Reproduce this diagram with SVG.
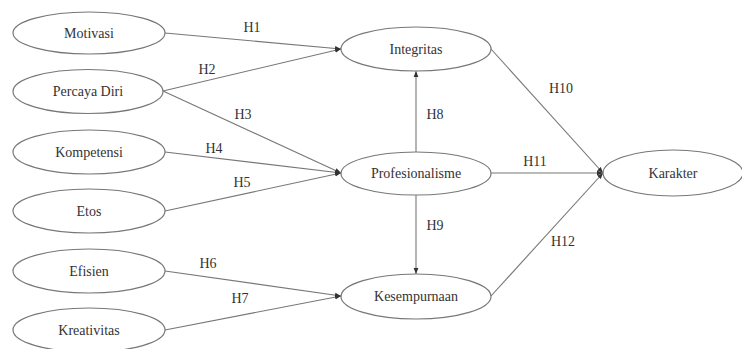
<svg xmlns="http://www.w3.org/2000/svg" width="742" height="349" viewBox="0 0 742 349">
<defs>
<style>
.n ellipse{fill:#fff;stroke:#777;stroke-width:1.2}
.n text{font-family:"Liberation Serif",serif;font-size:14px;fill:#333;text-anchor:middle}
.c line{stroke:#777;stroke-width:1.1}
.lbl{font-family:"Liberation Serif",serif;font-size:14px;fill:#333;text-anchor:middle}
</style>
<marker id="ah" viewBox="0 0 10 10" refX="10" refY="5" markerWidth="6" markerHeight="6" orient="auto" markerUnits="userSpaceOnUse">
<path d="M0,1 L10,5 L0,9 z" fill="#333"/>
</marker>
</defs>
<rect width="742" height="349" fill="#fff"/>
<g id="connectors" class="c">
<line x1="165" y1="33" x2="341" y2="49" marker-end="url(#ah)"/>
<line x1="163" y1="91" x2="341" y2="49" marker-end="url(#ah)"/>
<line x1="163" y1="91" x2="341" y2="173" marker-end="url(#ah)"/>
<line x1="165" y1="152" x2="341" y2="173" marker-end="url(#ah)"/>
<line x1="165" y1="211" x2="341" y2="173" marker-end="url(#ah)"/>
<line x1="165" y1="271" x2="341" y2="296" marker-end="url(#ah)"/>
<line x1="165" y1="330" x2="341" y2="296" marker-end="url(#ah)"/>
<line x1="416" y1="152" x2="416" y2="71" marker-end="url(#ah)"/>
<line x1="416" y1="195" x2="416" y2="274" marker-end="url(#ah)"/>
<line x1="491" y1="49" x2="603" y2="173" marker-end="url(#ah)"/>
<line x1="491" y1="173" x2="603" y2="173" marker-end="url(#ah)"/>
<line x1="491" y1="296" x2="603" y2="173" marker-end="url(#ah)"/>
<text class="lbl" x="252" y="32">H1</text>
<text class="lbl" x="207" y="74">H2</text>
<text class="lbl" x="243" y="119">H3</text>
<text class="lbl" x="214" y="153">H4</text>
<text class="lbl" x="242" y="187">H5</text>
<text class="lbl" x="208" y="268">H6</text>
<text class="lbl" x="240" y="303">H7</text>
<text class="lbl" x="435" y="119">H8</text>
<text class="lbl" x="435" y="230">H9</text>
<text class="lbl" x="561" y="93">H10</text>
<text class="lbl" x="535" y="166">H11</text>
<text class="lbl" x="563" y="246">H12</text>
</g>
<g id="motivasi" class="n"><ellipse cx="89" cy="33" rx="76" ry="21"/><text x="89" y="37.5">Motivasi</text></g>
<g id="percaya-diri" class="n"><ellipse cx="88" cy="91.5" rx="75" ry="22"/><text x="88" y="96">Percaya Diri</text></g>
<g id="kompetensi" class="n"><ellipse cx="89" cy="152" rx="76" ry="22"/><text x="89" y="156.5">Kompetensi</text></g>
<g id="etos" class="n"><ellipse cx="89" cy="211" rx="76" ry="22"/><text x="89" y="215.5">Etos</text></g>
<g id="efisien" class="n"><ellipse cx="89" cy="271" rx="76" ry="22"/><text x="89" y="275.5">Efisien</text></g>
<g id="kreativitas" class="n"><ellipse cx="89" cy="330" rx="76" ry="22"/><text x="89" y="334.5">Kreativitas</text></g>
<g id="integritas" class="n"><ellipse cx="416" cy="49" rx="75" ry="22"/><text x="416" y="53.5">Integritas</text></g>
<g id="profesionalisme" class="n"><ellipse cx="416" cy="173.5" rx="75" ry="21.5"/><text x="416" y="178">Profesionalisme</text></g>
<g id="kesempurnaan" class="n"><ellipse cx="416" cy="296.5" rx="75" ry="22.5"/><text x="416" y="301">Kesempurnaan</text></g>
<g id="karakter" class="n"><ellipse cx="673" cy="173" rx="70" ry="23"/><text x="673" y="177.5">Karakter</text></g>
</svg>
